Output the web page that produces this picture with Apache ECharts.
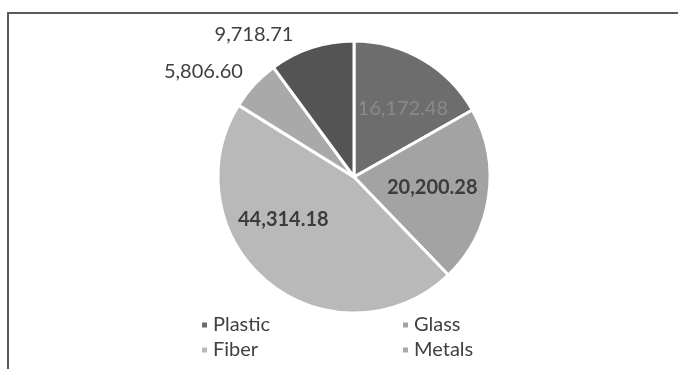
<!DOCTYPE html>
<html><head><meta charset="utf-8">
<script src="https://cdn.jsdelivr.net/npm/echarts@6/dist/echarts.min.js"></script>
<style>html,body{margin:0;padding:0;background:#fff}#c{width:678px;height:369px}</style>
</head><body><div id="c"></div>
<script>
const categories = ['Plastic', 'Glass', 'Fiber', 'Metals', 'Other'];
const values = [16172.48, 20200.28, 44314.18, 5806.60, 9718.71];
const sliceColors = ['#6d6d6d', '#a3a3a3', '#b9b9b9', '#a9a9a9', '#545454'];
const labelColors = ['#8a8a8a', '#3c3c3c', '#3c3c3c', '#404040', '#404040'];
const labelWeights = ['normal', 'bold', 'bold', 'normal', 'normal'];
const labelPos = ['inside', 'inside', 'inside', 'outside', 'outside'];
const labelShift = [[13, -7], [8, 0], [-26, -13], [5, -6], [-6, -4]];

const fmt = v => v.toLocaleString('en-US', {minimumFractionDigits: 2, maximumFractionDigits: 2});
const FONT = 'Lato';

const chart = echarts.init(document.getElementById('c'), null, {renderer: 'canvas'});
const legendText = {fontFamily: FONT, fontSize: 20, lineHeight: 20, color: '#404040'};
chart.setOption({
  animation: false,
  backgroundColor: '#ffffff',
  color: sliceColors,
  graphic: [
    {type: 'rect', shape: {x: 8, y: 12, width: 670, height: 2}, style: {fill: '#5a5a5a'}},
    {type: 'rect', shape: {x: 7, y: 12, width: 2, height: 357}, style: {fill: '#5a5a5a'}}
  ],
  legend: [
    {
      data: [categories[0], categories[2]],
      orient: 'vertical', left: 200, top: 315, padding: 0,
      icon: 'rect', itemWidth: 7, itemHeight: 7, itemGap: 5,
      textStyle: legendText
    },
    {
      data: [categories[1], categories[3]],
      orient: 'vertical', left: 401, top: 315, padding: 0,
      icon: 'rect', itemWidth: 7, itemHeight: 7, itemGap: 5,
      textStyle: legendText
    }
  ],
  series: [{
    type: 'pie',
    center: [354, 177],
    radius: 136,
    startAngle: 90,
    clockwise: true,
    itemStyle: {borderColor: '#ffffff', borderWidth: 3},
    labelLine: {show: false, length: 10, length2: 4},
    data: categories.map((n, i) => ({
      name: n, value: values[i],
      label: {
        show: true,
        position: labelPos[i],
        offset: labelShift[i],
        formatter: p => fmt(p.value),
        fontFamily: FONT, fontSize: 20, fontWeight: labelWeights[i],
        color: labelColors[i]
      }
    }))
  }]
});
</script></body></html>
